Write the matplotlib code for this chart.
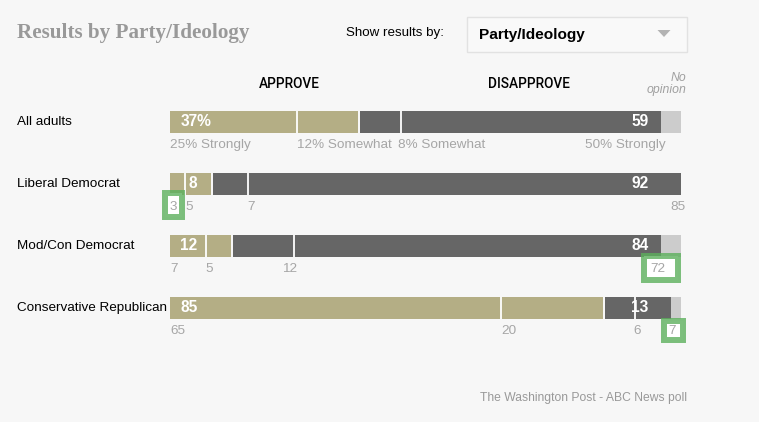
import matplotlib
matplotlib.use("Agg")
import matplotlib.pyplot as plt
import matplotlib.patches as patches
import matplotlib.transforms as mtransforms

plt.rcParams['font.family'] = ['Liberation Sans', 'DejaVu Sans']

# poll numbers, percent
groups = ['All adults', 'Liberal Democrat', 'Mod/Con Democrat', 'Conservative Republican']
approve = [37, 8, 12, 85]
approve_strongly = [25, 3, 7, 65]
approve_somewhat = [12, 5, 5, 20]
disapprove = [59, 92, 84, 13]
disapprove_somewhat = [8, 7, 12, 6]
disapprove_strongly = [50, 85, 72, 7]
no_opinion = [4, 0, 4, 2]

# colours
c_approve = '#b4ae85'
c_disapprove = '#666666'
c_noop = '#cccccc'
bg = '#f7f7f7'
grey_txt = '#a6a6a6'

W, H = 759, 422
gap = 0.4
bar_h = 0.355

fig = plt.figure(figsize=(W / 100, H / 100), dpi=100, facecolor=bg)


def px(x, y):
    return x / W, 1 - y / H


ax = fig.add_axes([170 / W, 1 - 339 / H, 511 / W, 248 / H])
ax.set_facecolor(bg)
ax.set_xlim(0, 100.4)
ax.set_ylim(3.5, -0.5)
ax.axis('off')

rows = list(range(len(groups)))
dis_left = [a + gap for a in approve]
dis_strong_drawn = [d - s for d, s in zip(disapprove, disapprove_somewhat)]

ax.barh(rows, approve_strongly, height=bar_h, color=c_approve, lw=0)
ax.barh(rows, approve_somewhat, left=approve_strongly, height=bar_h, color=c_approve, lw=0)
ax.barh(rows, disapprove_somewhat, left=dis_left, height=bar_h, color=c_disapprove, lw=0)
left2 = [l + s for l, s in zip(dis_left, disapprove_somewhat)]
ax.barh(rows, dis_strong_drawn, left=left2, height=bar_h, color=c_disapprove, lw=0)
left3 = [l + d for l, d in zip(dis_left, disapprove)]
ax.barh(rows, no_opinion, left=left3, height=bar_h, color=c_noop, lw=0)

# white dividers between strongly / somewhat
for r in rows:
    for xd in (approve_strongly[r], left2[r]):
        ax.vlines(xd, r - bar_h / 2, r + bar_h / 2, color='white', lw=1.3, zorder=3)

sub_dy = 0.375
approve_pad = [2, 3.7, 2, 2]
dsw_ha = ['left', 'left', 'right', 'left']
dsw_off = [-0.6, -0.2, 0.6, -0.3]

for r in rows:
    pct = '%' if r == 0 else ''
    ax.text(approve_pad[r], r, f'{approve[r]}{pct}', color='white', fontsize=11.2,
            fontweight='bold', ha='left', va='center', zorder=5)
    ax.text(94, r, f'{disapprove[r]}', color='white', fontsize=11.2,
            fontweight='bold', ha='right', va='center', zorder=5)

    if r == 0:
        labs = [f'{approve_strongly[r]}% Strongly', f'{approve_somewhat[r]}% Somewhat',
                f'{disapprove_somewhat[r]}% Somewhat', f'{disapprove_strongly[r]}% Strongly']
    else:
        labs = [str(approve_strongly[r]), str(approve_somewhat[r]),
                str(disapprove_somewhat[r]), str(disapprove_strongly[r])]
    y = r + sub_dy
    kw = dict(color=grey_txt, fontsize=9.7, va='center', zorder=6)
    ax.text(0, y, labs[0], ha='left', **kw)
    ax.text(approve_strongly[r], y, labs[1], ha='left', **kw)
    ax.text(left2[r] + dsw_off[r], y, labs[2], ha=dsw_ha[r], **kw)
    ax.text(left3[r] + 1, y, labs[3], ha='right', **kw)

# green highlight boxes around a few sub labels
hl_green = (0.36, 0.69, 0.36, 0.8)
highlights = [(1, -1.0, 2.4, 0.15, 0.54),
              (2, 93.2, 99.8, 0.16, 0.55),
              (3, 97.1, 100.8, 0.21, 0.52)]
for r, x0, x1, y0, y1 in highlights:
    ax.add_patch(patches.Rectangle((x0, r + y0), x1 - x0, y1 - y0, fc='white',
                                   ec=hl_green, lw=4.3, zorder=4, clip_on=False))

# group labels
tr = mtransforms.blended_transform_factory(fig.transFigure, ax.transData)
for r, g in enumerate(groups):
    ax.text(17 / W, r, g, transform=tr, ha='left', va='center', fontsize=9.7, color='black')

# header texts
fig.text(*px(17, 33), 'Results by Party/Ideology', family=['Liberation Serif'],
         fontweight='bold', fontsize=15.2, color='#999999', ha='left', va='center')
fig.text(*px(346, 33), 'Show results by:', fontsize=9.6, color='black', ha='left', va='center')
fig.add_artist(patches.Rectangle(px(467, 51.5), 220 / W, 34.5 / H, transform=fig.transFigure,
                                 fc='#f9f9f9', ec='#e2e2e2', lw=1))
fig.text(*px(479, 35), 'Party/Ideology', fontsize=11.1, fontweight='bold', color='black',
         ha='left', va='center')
fig.add_artist(patches.Polygon([px(657.5, 30), px(670.5, 30), px(664, 37)], closed=True,
                               transform=fig.transFigure, fc='#b3b3b3', ec='none'))

fig.text(*px(289, 84), 'APPROVE', family=['Roboto', 'Liberation Sans'], fontweight='medium',
         fontsize=9.8, color='black', ha='center', va='center')
fig.text(*px(529, 84), 'DISAPPROVE', family=['Roboto', 'Liberation Sans'], fontweight='medium',
         fontsize=9.8, color='black', ha='center', va='center')
fig.text(*px(686, 84), 'No\nopinion', fontsize=8.8, style='italic', color='#a0a0a0',
         ha='right', va='center', multialignment='right', linespacing=0.9)

fig.text(*px(686.5, 398), 'The Washington Post - ABC News poll', fontsize=8.7, color='#999999',
         ha='right', va='center')

fig.savefig('out.png', dpi=100, facecolor=bg)
